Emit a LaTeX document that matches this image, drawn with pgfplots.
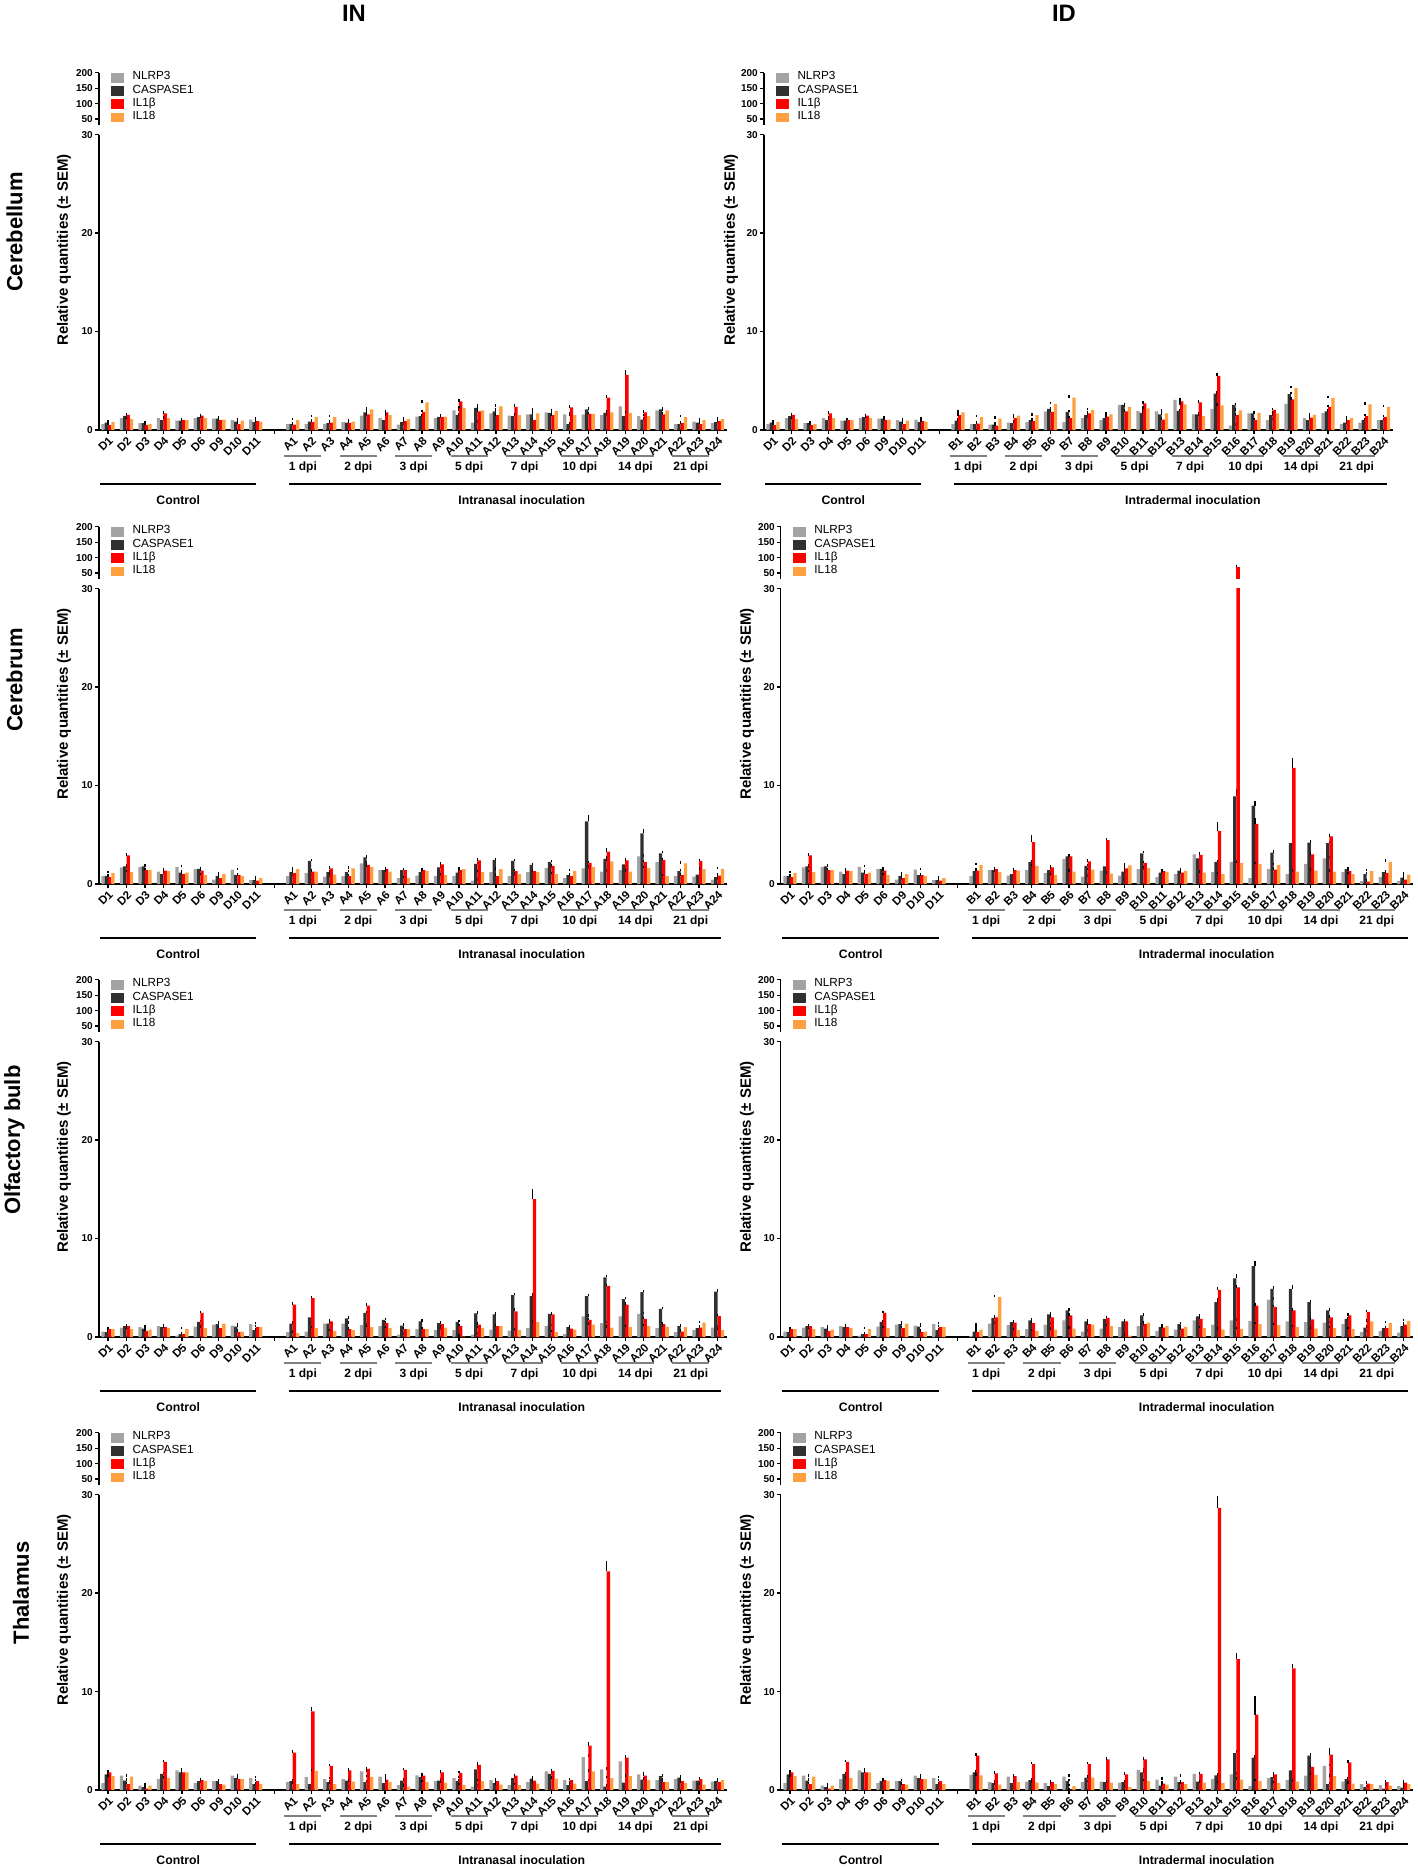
\documentclass[border=0pt]{standalone}
\usepackage{pgfplots}
\pgfplotsset{compat=1.18}
\usepackage{pgfplotstable}
\usepackage{fontspec}
\setmainfont{Liberation Sans}
\definecolor{nlcol}{HTML}{A3A3A3}
\definecolor{cacol}{HTML}{303030}
\definecolor{ilcol}{HTML}{FF0000}
\definecolor{iecol}{HTML}{FFA040}
\newcommand{\fs}[1]{\fontsize{#1}{#1}\selectfont}

% columns: x NLRP3 CASPASE1 IL1b IL18 and their SEM
\pgfplotstableread{
x n c b r en ec eb er
0 0.6 0.75 0.5 0.8 .1 .1 .1 .1
1 1.2 1.4 1.55 1.1 .1 .1 .1 .1
2 0.7 0.7 0.5 0.6 .1 .1 .1 .1
3 1.2 1.0 1.7 1.2 .1 .1 .1 .1
4 0.95 0.95 1.0 1.0 .1 .1 .1 .1
5 1.2 1.3 1.45 1.2 .1 .1 .1 .1
6 1.15 1.15 1.0 1.05 .1 .1 .1 .1
7 1.0 0.85 0.6 0.95 .1 .1 .1 .1
8 1.05 0.8 0.9 0.85 .1 .1 .1 .1
10 0.6 0.6 0.55 1.0 .1 .1 .1 .1
11 0.6 0.85 0.8 1.3 .1 .1 .1 .1
12 0.6 0.7 0.75 1.3 .1 .1 .1 .1
13 0.8 0.75 0.7 0.85 .1 .1 .1 .1
14 1.45 1.8 1.6 2.1 .1 .1 .1 .1
15 1.2 1.0 1.8 1.5 .1 .1 .1 .1
16 0.55 0.8 0.9 1.1 .1 .1 .1 .1
17 1.35 1.4 1.85 2.8 .1 .1 .1 .1
18 1.2 1.3 1.3 1.35 .1 .1 .1 .1
19 2.0 1.5 2.9 2.25 .1 .1 .1 .1
20 0.75 2.25 1.9 2.0 .1 .3 .1 .1
21 1.7 1.9 1.5 2.4 .1 .2 .1 .1
22 1.45 1.4 2.35 1.5 .1 .1 .2 .1
23 1.6 1.6 1.0 1.7 .1 .5 .1 .1
24 1.8 1.75 1.5 1.95 .1 .1 .1 .1
25 1.6 0.6 2.3 1.5 .1 .1 .1 .1
26 1.6 2.1 1.65 1.65 .1 .1 .1 .1
27 1.5 1.75 3.3 1.8 .1 .1 .1 .1
28 2.4 1.4 5.6 1.75 .1 .1 .35 .1
29 1.4 1.05 1.8 1.4 .1 .1 .1 .1
30 2.0 2.1 1.6 2.0 .1 .1 .1 .1
31 0.6 0.6 0.7 1.3 .1 .1 .1 .1
32 0.85 0.75 0.6 1.0 .1 .1 .1 .1
33 0.7 0.8 0.9 1.1 .1 .1 .1 .1
}\cbIN
\pgfplotstableread{
x n c b r en ec eb er
0 0.6 0.75 0.5 0.8 .1 .1 .1 .1
1 1.2 1.4 1.55 1.1 .1 .1 .1 .1
2 0.7 0.7 0.5 0.6 .1 .1 .1 .1
3 1.2 1.0 1.7 1.2 .1 .1 .1 .1
4 0.95 0.95 1.0 1.0 .1 .1 .1 .1
5 1.2 1.3 1.45 1.2 .1 .1 .1 .1
6 1.15 1.15 1.0 1.05 .1 .1 .1 .1
7 1.0 0.85 0.6 0.95 .1 .1 .1 .1
8 1.05 0.8 0.9 0.85 .1 .1 .1 .1
10 0.6 0.95 1.5 1.8 .1 .1 .1 .1
11 0.6 0.6 0.65 1.3 .1 .1 .1 .1
12 0.55 0.55 0.45 1.15 .1 .1 .1 .1
13 0.75 0.7 1.2 1.45 .1 .1 .1 .1
14 0.8 1.0 0.9 1.5 .1 .1 .1 .1
15 1.9 2.15 1.85 2.65 .1 .1 .1 .1
16 0.8 1.85 1.2 3.3 .1 .1 .1 .1
17 1.2 1.5 1.7 2.05 .1 .1 .1 .1
18 1.0 1.2 1.35 1.6 .1 .1 .1 .1
19 2.55 2.55 1.9 2.35 .1 .1 .1 .1
20 1.95 1.75 2.7 2.2 .1 .1 .1 .1
21 1.9 1.6 1.05 1.7 .1 .1 .1 .1
22 3.05 1.95 2.9 2.6 .1 .1 .1 .1
23 1.6 1.6 2.8 1.4 .1 .1 .1 .1
24 2.15 3.7 5.5 2.5 .1 .1 .2 .1
25 0.45 2.55 1.5 2.0 .1 .1 .1 .1
26 1.7 1.7 1.0 1.75 .1 .1 .1 .1
27 1.0 1.5 2.05 1.7 .1 .1 .1 .1
28 2.65 3.65 3.1 4.25 .1 .1 .1 .1
29 1.2 1.0 1.25 1.55 .1 .1 .1 .1
30 1.75 1.9 2.35 3.25 .1 .1 .1 .1
31 0.6 0.75 1.0 1.2 .1 .1 .1 .1
32 0.75 1.0 1.4 2.6 .1 .1 .1 .1
33 1.0 1.0 1.3 2.35 .1 .1 .1 .1
}\cbID
\pgfplotstableread{
x n c b r en ec eb er
0 0.8 0.8 0.7 1.1 .1 .1 .1 .1
1 1.7 1.8 2.9 1.2 .1 .1 .1 .1
2 1.75 1.8 1.4 1.4 .1 .1 .1 .1
3 1.25 1.0 1.35 1.3 .1 .1 .1 .1
4 1.75 1.15 1.0 1.15 .1 .1 .1 .1
5 1.5 1.55 1.35 0.9 .1 .1 .1 .1
6 0.45 0.8 0.6 1.0 .1 .1 .1 .1
7 1.45 0.9 0.9 0.8 .1 .1 .1 .1
8 0.4 0.4 0.35 0.6 .1 .1 .1 .1
10 0.8 1.2 1.1 1.5 .1 .1 .1 .1
11 1.1 2.35 1.25 1.25 .1 .1 .1 .1
12 0.75 1.2 1.6 0.95 .1 .1 .1 .1
13 0.8 1.2 0.8 1.6 .1 .1 .1 .1
14 2.1 2.7 1.95 1.75 .1 .1 .1 .1
15 1.4 1.4 1.5 1.25 .1 .1 .1 .1
16 0.6 1.4 1.4 0.6 .1 .1 .1 .1
17 0.85 1.2 1.4 1.3 .1 .1 .1 .1
18 0.8 1.7 2.0 0.9 .1 .1 .1 .1
19 0.8 1.15 1.4 1.5 .1 .1 .1 .1
20 0.35 2.05 2.4 1.2 .1 .1 .1 .1
21 1.2 2.45 0.8 1.5 .1 .1 .1 .1
22 0.8 2.35 1.3 1.0 .1 .1 .1 .1
23 1.2 1.95 1.3 1.2 .1 .1 .1 .1
24 1.65 2.25 1.85 1.0 .1 .1 .1 .1
25 0.6 0.9 0.8 1.3 .1 .1 .1 .1
26 1.6 6.35 2.15 1.75 .1 .55 .1 .1
27 1.25 2.55 3.3 2.3 .1 .1 .2 .45
28 1.4 2.0 2.4 1.25 .1 .1 .1 .1
29 2.8 5.15 2.25 1.65 .1 .35 .1 .1
30 2.25 3.1 2.45 0.8 .1 .15 .1 .1
31 0.8 1.3 0.9 2.1 .1 .1 .1 .1
32 0.75 0.95 2.35 1.5 .1 .1 .1 .1
33 0.45 0.7 0.85 1.55 .1 .1 .1 .1
}\crIN
\pgfplotstableread{
x n c b r en ec eb er
0 0.8 0.8 0.7 1.1 .1 .1 .1 .1
1 1.7 1.8 2.9 1.2 .1 .1 .1 .1
2 1.75 1.8 1.4 1.4 .1 .1 .1 .1
3 1.25 1.0 1.35 1.3 .1 .1 .1 .1
4 1.75 1.15 1.0 1.15 .1 .1 .1 .1
5 1.5 1.55 1.35 0.9 .1 .1 .1 .1
6 0.45 0.8 0.6 1.0 .1 .1 .1 .1
7 1.45 0.9 0.9 0.8 .1 .1 .1 .1
8 0.4 0.4 0.35 0.6 .1 .1 .1 .1
10 0.8 1.3 1.35 1.95 .1 .1 .1 .1
11 1.4 1.4 1.5 1.2 .1 .1 .1 .1
12 0.85 1.0 1.4 1.35 .1 .1 .1 .1
13 1.4 2.25 4.25 1.85 .1 .1 .6 .1
14 1.1 1.4 1.7 0.9 .1 .1 .1 .1
15 2.55 2.8 2.8 1.25 .1 .1 .1 .1
16 0.75 1.85 2.3 1.45 .1 .1 .1 .1
17 1.35 1.8 4.45 1.05 .1 .1 .1 .1
18 0.85 1.25 1.6 1.9 .1 .1 .1 .1
19 1.5 3.1 2.15 1.65 .1 .15 .1 .1
20 0.7 1.15 1.3 1.2 .1 .1 .1 .1
21 1.0 1.35 1.15 1.3 .1 .1 .1 .1
22 3.0 2.6 2.95 1.15 .1 .1 .1 .1
23 1.2 2.25 5.4 1.0 .1 .1 .8 .1
24 2.25 8.9 70 2.15 .1 .6 3 .1
25 0.6 7.95 6.1 2.05 .1 .4 .5 .1
26 1.5 3.2 1.45 1.95 .1 .1 .1 .1
27 1.0 4.15 11.8 1.25 .1 .1 .9 .1
28 2.05 4.2 3.0 1.35 .1 .1 .1 .1
29 2.6 4.15 4.85 1.25 .1 .1 .1 .1
30 1.2 1.5 1.3 1.0 .1 .1 .1 .1
31 0.3 1.0 0.25 1.3 .1 .1 .1 .1
32 0.7 1.2 1.1 2.25 .1 .1 .1 .2
33 0.3 0.65 0.45 0.95 .1 .1 .1 .1
}\crID
\pgfplotstableread{
x n c b r en ec eb er
0 0.55 0.5 0.8 0.8 .1 .1 .1 .1
1 0.95 1.1 1.1 0.8 .1 .1 .1 .1
2 1.0 0.85 0.6 0.75 .1 .1 .1 .1
3 1.1 1.0 1.0 0.9 .1 .1 .1 .1
4 0.15 0.3 0.3 0.8 .1 .1 .1 .1
5 1.05 1.55 2.45 0.9 .1 .1 .1 .1
6 1.25 1.3 0.9 1.35 .1 .1 .1 .1
7 1.15 1.05 0.5 0.55 .1 .1 .1 .1
8 1.3 0.7 1.0 1.0 .1 .1 .1 .1
10 0.5 1.35 3.3 0.4 .1 .1 .1 .1
11 0.55 2.0 3.95 0.9 .1 .1 .1 .1
12 1.35 1.35 1.6 0.6 .1 .1 .1 .1
13 1.35 1.9 0.8 0.7 .1 .1 .1 .1
14 1.2 2.45 3.2 1.0 .1 .1 .1 .1
15 1.1 1.75 1.4 0.9 .1 .1 .1 .1
16 0.25 1.15 0.8 0.8 .1 .1 .1 .1
17 0.8 1.6 0.8 0.8 .1 .1 .1 .1
18 0.7 1.4 1.3 0.95 .1 .1 .1 .1
19 0.7 1.55 1.1 0.05 .1 .1 .1 .1
20 0.25 2.4 1.25 0.9 .1 .1 .1 .1
21 0.75 2.3 1.1 1.1 .1 .1 .1 .1
22 0.65 4.25 2.6 0.7 .1 .1 .2 .1
23 0.9 4.15 14.0 1.5 .1 .2 .9 .1
24 1.1 2.35 2.3 0.5 .1 .1 .1 .1
25 0.3 1.0 0.85 0.75 .1 .1 .1 .1
26 2.1 4.15 1.75 1.25 .1 .1 .1 .1
27 1.4 6.05 5.2 0.95 .1 .15 .1 .1
28 2.1 3.85 3.3 1.0 .1 .1 .1 .1
29 2.35 4.55 1.85 1.1 .1 .1 .1 .1
30 0.9 2.85 1.3 1.05 .1 .1 .1 .1
31 0.5 1.1 0.55 1.0 .1 .1 .1 .1
32 0.7 0.9 0.95 1.45 .1 .1 .1 .1
33 0.95 4.6 2.15 0.7 .1 .1 .1 .1
}\obIN
\pgfplotstableread{
x n c b r en ec eb er
0 0.55 0.5 0.8 0.8 .1 .1 .1 .1
1 0.95 1.1 1.1 0.8 .1 .1 .1 .1
2 1.0 0.85 0.6 0.75 .1 .1 .1 .1
3 1.1 1.0 1.0 0.9 .1 .1 .1 .1
4 0.15 0.3 0.3 0.8 .1 .1 .1 .1
5 1.05 1.55 2.45 0.9 .1 .1 .1 .1
6 1.25 1.3 0.9 1.35 .1 .1 .1 .1
7 1.15 1.05 0.5 0.55 .1 .1 .1 .1
8 1.3 0.7 1.0 1.0 .1 .1 .1 .1
10 0.1 0.55 0.5 0.75 .1 .1 .1 .5
11 1.35 1.95 2.0 4.05 .1 .1 .1 .1
12 1.2 1.5 1.45 0.7 .1 .1 .1 .1
13 0.8 1.7 1.4 0.6 .1 .1 .1 .1
14 1.25 2.3 2.0 0.75 .1 .1 .1 .1
15 1.7 2.7 2.2 0.85 .1 .1 .1 .1
16 0.55 1.6 1.3 1.25 .1 .1 .1 .1
17 0.85 1.85 1.95 1.1 .1 .1 .1 .1
18 1.0 1.6 1.6 0.15 .1 .1 .1 .1
19 1.1 2.2 1.3 1.45 .1 .1 .1 .1
20 0.6 1.0 0.95 1.1 .1 .1 .1 .1
21 0.75 1.3 0.85 1.0 .1 .1 .1 .1
22 1.7 2.1 1.85 0.9 .1 .1 .1 .1
23 1.25 3.55 4.8 0.75 .1 .25 .15 .1
24 1.7 5.95 5.05 0.8 .1 .3 .1 .1
25 1.65 7.2 3.2 1.3 .1 .4 .1 .1
26 3.8 4.9 3.05 1.2 .1 .2 .1 .1
27 1.6 4.9 2.7 1.0 .1 .3 .1 .1
28 1.5 3.55 1.8 0.85 .1 .1 .1 .1
29 1.45 2.7 2.0 0.9 .1 .1 .1 .1
30 1.3 1.85 2.2 0.8 .1 .1 .1 .1
31 0.5 0.95 2.55 1.6 .1 .1 .1 .1
32 0.6 0.9 0.9 1.4 .1 .1 .1 .1
33 0.45 1.1 1.25 1.65 .1 .1 .1 .1
}\obID
\pgfplotstableread{
x n c b r en ec eb er
0 0.7 1.6 1.8 1.4 .1 .1 .1 .1
1 1.45 0.95 0.6 1.35 .1 .1 .1 .1
2 0.45 0.3 0.15 0.45 .1 .1 .1 .1
3 1.1 1.65 2.85 1.2 .1 .1 .1 .1
4 2.0 1.8 1.8 1.8 .1 .1 .1 .1
5 0.7 0.9 1.0 0.9 .1 .1 .1 .1
6 0.9 0.9 0.6 0.55 .1 .1 .1 .1
7 1.45 1.2 1.1 1.1 .1 .1 .1 .1
8 1.2 0.6 0.9 0.6 .1 .1 .1 .1
10 0.8 0.9 3.8 0.6 .1 .1 .1 .1
11 1.3 0.6 8.0 1.95 .1 .1 .3 .1
12 1.1 0.8 2.45 0.6 .1 .1 .1 .1
13 1.1 0.95 2.0 0.85 .1 .1 .1 .1
14 1.9 0.8 2.15 1.3 .1 .1 .1 .1
15 1.35 0.7 1.05 0.8 .1 .1 .1 .1
16 0.5 0.95 2.05 0.35 .1 .1 .1 .1
17 1.5 1.3 1.45 0.8 .1 .1 .1 .1
18 0.9 0.95 1.8 0.75 .1 .1 .1 .1
19 1.2 0.9 1.75 0.5 .1 .1 .1 .1
20 0.35 2.1 2.55 0.9 .1 .6 .1 .1
21 1.0 0.7 0.9 0.55 .1 .1 .1 .1
22 0.5 1.2 1.45 0.5 .1 .1 .1 .1
23 0.8 1.15 0.95 0.65 .1 .1 .1 .1
24 1.9 1.65 1.95 1.15 .1 .1 .1 .1
25 1.0 0.5 1.0 0.65 .1 .1 .1 .1
26 3.35 0.9 4.5 1.9 .2 .1 .2 .1
27 2.1 0.35 22.2 1.2 .1 .1 .9 .1
28 2.9 0.75 3.3 1.4 .1 .1 .1 .1
29 1.6 1.05 1.45 1.0 .1 .1 .1 .1
30 1.0 1.4 0.8 0.8 .1 .1 .1 .1
31 1.1 1.25 0.9 0.7 .1 .1 .1 .1
32 0.95 0.95 1.1 0.55 .1 .1 .1 .1
33 0.85 0.9 0.8 1.0 .1 .1 .1 .1
}\thIN
\pgfplotstableread{
x n c b r en ec eb er
0 0.7 1.6 1.8 1.4 .1 .1 .1 .1
1 1.45 0.95 0.6 1.35 .1 .1 .1 .1
2 0.45 0.3 0.15 0.45 .1 .1 .1 .1
3 1.1 1.65 2.85 1.2 .1 .1 .1 .1
4 2.0 1.8 1.8 1.8 .1 .1 .1 .1
5 0.7 0.9 1.0 0.9 .1 .1 .1 .1
6 0.9 0.9 0.6 0.55 .1 .1 .1 .1
7 1.45 1.2 1.1 1.1 .1 .1 .1 .1
8 1.2 0.6 0.9 0.6 .1 .1 .1 .1
10 1.55 1.8 3.5 1.5 .1 .1 .1 .1
11 0.8 0.7 1.7 0.55 .1 .1 .1 .1
12 1.35 0.7 1.4 0.8 .1 .1 .1 .1
13 0.85 1.0 2.65 0.75 .1 .1 .1 .1
14 0.7 0.4 0.8 0.6 .1 .1 .1 .1
15 1.35 0.9 0.05 0.4 .1 .1 .05 .1
16 0.8 1.25 2.65 1.25 .1 .1 .1 .1
17 0.85 0.8 3.1 0.75 .1 .1 .1 .1
18 0.75 0.8 1.6 0.3 .1 .1 .1 .1
19 2.05 1.8 3.1 0.9 .1 .1 .1 .1
20 1.05 0.45 0.65 0.55 .1 .1 .1 .1
21 1.35 0.8 0.8 0.6 .1 .1 .1 .1
22 1.65 0.85 1.65 0.75 .1 .1 .1 .1
23 1.1 1.5 28.65 0.7 .1 .1 1.05 .1
24 1.6 3.75 13.3 1.05 .1 .2 .5 .1
25 0.4 3.3 7.65 0.9 .1 .1 1.8 .1
26 1.2 1.3 1.6 0.7 .1 .1 .1 .1
27 1.0 2.0 12.35 0.85 .1 .1 .3 .1
28 1.45 3.5 2.35 1.55 .1 .1 .1 .1
29 2.45 0.6 3.6 1.4 .1 .1 .5 .1
30 0.85 1.1 2.8 0.65 .1 .1 .1 .1
31 0.6 0.3 0.65 0.6 .1 .1 .1 .1
32 0.5 0.15 0.8 0.45 .1 .1 .1 .1
33 0.4 0.25 0.75 0.6 .1 .1 .1 .1
}\thID

\pgfplotsset{
  errbars/.style={/pgfplots/error bars/.cd, y dir=plus, y explicit,
     error bar style={line width=0.45pt, black},
     error mark options={line width=0.45pt, black, mark size=0.5pt}, /pgfplots/.cd},
  snl/.style={ybar, bar width=0.18, bar shift=-0.27, fill=nlcol, draw=none, errbars},
  sca/.style={ybar, bar width=0.18, bar shift=-0.09, fill=cacol, draw=none, errbars},
  sil/.style={ybar, bar width=0.18, bar shift=0.09, fill=ilcol, draw=none, errbars},
  sie/.style={ybar, bar width=0.18, bar shift=0.27, fill=iecol, draw=none, errbars},
  base/.style={scale only axis, xmin=-0.5, xmax=33.5,
     axis line style={line width=0.6pt}, tick style={line width=0.5pt, black},
     tick align=outside, major tick length=1.4pt,
     /pgf/number format/assume math mode=true,
     yticklabel style={font=\fs{4.0}\bfseries, inner sep=0.8pt}},
  lower/.style={base, height=118.16pt, ymin=0, ymax=30, ytick={0,10,20,30},
     axis x line*=bottom, axis y line*=left, xtick={0,...,33},
     xticklabel style={rotate=45, anchor=north east, font=\fs{4.6}\bfseries, inner sep=0.5pt},
     clip mode=individual},
  upper/.style={base, height=21pt, ymin=30, ymax=200, ytick={50,100,150,200},
     axis x line=none, axis y line*=left, xtick=\empty,
     legend style={at={(rel axis cs:0,1)}, anchor=north west, xshift=4.6pt, yshift=0.9pt,
       draw=none, fill=none, inner sep=0pt, font=\fs{4.7},
       nodes={inner sep=0.3pt}, row sep=-0.1pt,
       /tikz/every odd column/.append style={column sep=3.2pt}},
     legend cell align=left},
}

\newcommand{\seriesplots}[1]{%
  \addplot[snl] table[x=x,y=n,y error=en]{#1};
  \addplot[sca] table[x=x,y=c,y error=ec]{#1};
  \addplot[sil] table[x=x,y=b,y error=eb]{#1};
  \addplot[sie] table[x=x,y=r,y error=er]{#1};}

\newcommand{\legimg}[1]{\addlegendimage{legend image code/.code={\fill[#1] (0pt,-1.75pt) rectangle (4.8pt,1.75pt);}}}

\newcommand{\dpi}[4]{%
  \draw[gray, line width=0.6pt] (axis cs:#1,-2.64) -- (axis cs:#2,-2.64);
  \node[font=\fs{4.8}\bfseries] at (axis cs:#3,-3.76) {#4};}

% #1 group name, #2 x position of group name
\newcommand{\annot}[2]{%
  \dpi{9.55}{11.55}{10.55}{1 dpi}
  \dpi{12.55}{14.55}{13.55}{2 dpi}
  \dpi{15.55}{17.55}{16.55}{3 dpi}
  \dpi{18.55}{20.55}{19.55}{5 dpi}
  \dpi{21.55}{23.55}{22.55}{7 dpi}
  \dpi{24.55}{26.55}{25.55}{10 dpi}
  \dpi{27.55}{29.55}{28.55}{14 dpi}
  \dpi{30.55}{32.55}{31.55}{21 dpi}
  \draw[black, line width=1pt] (axis cs:-0.45,-5.48) -- (axis cs:8,-5.48);
  \node[font=\fs{4.9}\bfseries] at (axis cs:3.8,-7.11) {Control};
  \draw[black, line width=1pt] (axis cs:9.8,-5.48) -- (axis cs:33.2,-5.48);
  \node[font=\fs{4.9}\bfseries] at (axis cs:#2,-7.11) {#1};}

% #1 table, #2 left x, #3 baseline y, #4 upper bottom y, #5 width, #6 letter, #7 group name, #8 group name x, #9 extra upper plots
\newcommand{\panel}[9]{%
  \begin{axis}[lower, at={(#2,#3)}, anchor=south west, width=#5,
     xticklabels={D1,D2,D3,D4,D5,D6,D9,D10,D11,{},#61,#62,#63,#64,#65,#66,#67,#68,#69,#610,#611,#612,#613,#614,#615,#616,#617,#618,#619,#620,#621,#622,#623,#624}]
    \seriesplots{#1}
    \annot{#7}{#8}
  \end{axis}
  \begin{axis}[upper, at={(#2,#4)}, anchor=south west, width=#5]
    #9
    \legimg{nlcol}\legimg{cacol}\legimg{ilcol}\legimg{iecol}
    \legend{NLRP3,CASPASE1,IL1β,IL18}
  \end{axis}}

\begin{document}
\begin{tikzpicture}
\path[use as bounding box] (0,0) rectangle (567.2pt,-747.6pt);
\node[font=\fs{9.5}\bfseries] at (141.6pt,-5.4pt) {IN};
\node[font=\fs{9.5}\bfseries] at (425.6pt,-5.4pt) {ID};
\node[rotate=90, font=\fs{8.8}\bfseries] at (5.8pt,-92.8pt) {Cerebellum};
\node[rotate=90, font=\fs{8.8}\bfseries] at (5.8pt,-272pt) {Cerebrum};
\node[rotate=90, font=\fs{8.8}\bfseries] at (5.8pt,-456pt) {Olfactory bulb};
\node[rotate=90, font=\fs{8.8}\bfseries] at (8.4pt,-637.2pt) {Thalamus};
\foreach \yy in {-100,-281.6,-462.8,-644} {
  \node[rotate=90, font=\fs{6}\bfseries] at (25.6pt,\yy pt) {Relative quantities (± SEM)};}
\node[rotate=90, font=\fs{6}\bfseries] at (292.4pt,-100pt) {Relative quantities (± SEM)};
\foreach \yy in {-281.6,-462.8,-644} {
  \node[rotate=90, font=\fs{6}\bfseries] at (298.8pt,\yy pt) {Relative quantities (± SEM)};}

\panel{\cbIN}{39.52pt}{-172pt}{-50.08pt}{251.19pt}{A}{Intranasal inoculation}{22.4}{}
\panel{\cbID}{305.5pt}{-172pt}{-50.08pt}{251.6pt}{B}{Intradermal inoculation}{22.7}{}
\panel{\crIN}{39.52pt}{-353.6pt}{-231.68pt}{251.19pt}{A}{Intranasal inoculation}{22.4}{}
\panel{\crID}{312.28pt}{-353.6pt}{-231.68pt}{252.96pt}{B}{Intradermal inoculation}{22.4}{%
  \addplot[forget plot, restrict y to domain=30:400, sil] table[x=x,y=b,y error=eb]{\crID};}
\panel{\obIN}{39.52pt}{-534.8pt}{-412.88pt}{251.19pt}{A}{Intranasal inoculation}{22.4}{}
\panel{\obID}{312.28pt}{-534.8pt}{-412.88pt}{252.96pt}{B}{Intradermal inoculation}{22.4}{}
\panel{\thIN}{39.52pt}{-716pt}{-594.08pt}{251.19pt}{A}{Intranasal inoculation}{22.4}{}
\panel{\thID}{312.28pt}{-716pt}{-594.08pt}{252.96pt}{B}{Intradermal inoculation}{22.4}{}
\end{tikzpicture}
\end{document}
